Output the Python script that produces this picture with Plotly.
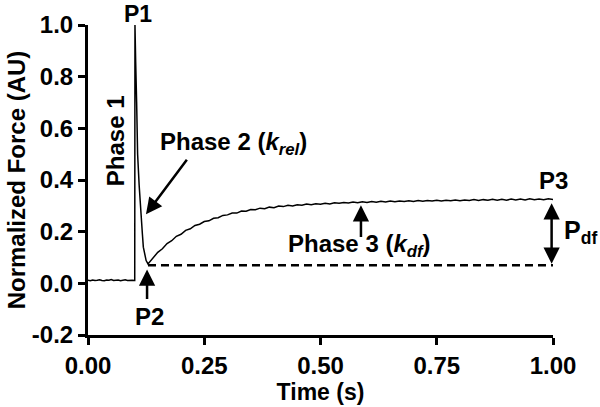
import plotly.graph_objects as go

# ---- data ----
time_s = [
    0.000, 0.005, 0.010, 0.015, 0.020, 0.025, 0.030, 0.035, 0.040, 0.045,
    0.050, 0.055, 0.060, 0.065, 0.070, 0.075, 0.080, 0.085, 0.090, 0.095,
    0.1005,
    0.1010, 0.1025, 0.1046, 0.1067, 0.1100, 0.1140, 0.1170, 0.1190, 0.1226, 0.1250, 0.1290,
    0.14, 0.15, 0.16, 0.17, 0.18, 0.19, 0.20, 0.21, 0.22, 0.23,
    0.24, 0.25, 0.26, 0.27, 0.28, 0.29, 0.30, 0.31, 0.32, 0.33,
    0.34, 0.35, 0.36, 0.37, 0.38, 0.39, 0.40, 0.41, 0.42, 0.43,
    0.44, 0.45, 0.46, 0.47, 0.48, 0.49, 0.50, 0.51, 0.52, 0.53,
    0.54, 0.55, 0.56, 0.57, 0.58, 0.59, 0.60, 0.61, 0.62, 0.63,
    0.64, 0.65, 0.66, 0.67, 0.68, 0.69, 0.70, 0.71, 0.72, 0.73,
    0.74, 0.75, 0.76, 0.77, 0.78, 0.79, 0.80, 0.81, 0.82, 0.83,
    0.84, 0.85, 0.86, 0.87, 0.88, 0.89, 0.90, 0.91, 0.92, 0.93,
    0.94, 0.95, 0.96, 0.97, 0.98, 0.99, 1.00,
]
force_au = [
    0.012, 0.010, 0.013, 0.011, 0.012, 0.014, 0.011, 0.010, 0.013, 0.012,
    0.015, 0.011, 0.012, 0.013, 0.010, 0.012, 0.014, 0.011, 0.013, 0.012,
    0.011,
    1.000, 0.860, 0.700, 0.500, 0.380, 0.290, 0.190, 0.140, 0.100, 0.088, 0.075,
    0.097, 0.120, 0.134, 0.154, 0.165, 0.182, 0.190, 0.205, 0.211, 0.224,
    0.229, 0.239, 0.242, 0.252, 0.254, 0.263, 0.265, 0.272, 0.272, 0.280,
    0.279, 0.286, 0.285, 0.291, 0.289, 0.295, 0.293, 0.299, 0.297, 0.302,
    0.299, 0.304, 0.302, 0.307, 0.304, 0.308, 0.306, 0.310, 0.307, 0.312,
    0.310, 0.313, 0.311, 0.315, 0.312, 0.316, 0.313, 0.317, 0.314, 0.318,
    0.315, 0.319, 0.316, 0.319, 0.317, 0.320, 0.317, 0.321, 0.318, 0.321,
    0.319, 0.322, 0.319, 0.322, 0.320, 0.323, 0.320, 0.323, 0.321, 0.324,
    0.321, 0.324, 0.322, 0.325, 0.322, 0.325, 0.322, 0.326, 0.323, 0.326,
    0.323, 0.327, 0.324, 0.326, 0.324, 0.327, 0.325,
]

# P2 reference level (dashed line)
p2_time = 0.129
p2_level = 0.070
end_time = 1.0

x_ticks = [0.0, 0.25, 0.5, 0.75, 1.0]
x_labels = ["0.00", "0.25", "0.50", "0.75", "1.00"]
y_ticks = [-0.2, 0.0, 0.2, 0.4, 0.6, 0.8, 1.0]
y_labels = ["-0.2", "0.0", "0.2", "0.4", "0.6", "0.8", "1.0"]

FONT = "Liberation Sans, Arial, sans-serif"
ANN = 24
PLBL = 24

fig = go.Figure()
fig.add_trace(go.Scatter(
    x=time_s, y=force_au, mode="lines",
    line=dict(color="black", width=1.5), showlegend=False, hoverinfo="skip",
))
fig.add_trace(go.Scatter(
    x=[p2_time, end_time], y=[p2_level, p2_level], mode="lines",
    line=dict(color="black", width=2.5, dash="8px,5px"), showlegend=False,
    hoverinfo="skip",
))

def txt(x, y, s, size=ANN, xanchor="center", yanchor="middle", angle=0,
        xref="x", yref="y"):
    fig.add_annotation(x=x, y=y, xref=xref, yref=yref, text=s, showarrow=False,
                       xanchor=xanchor, yanchor=yanchor, textangle=angle,
                       font=dict(family=FONT, size=size, color="black"))

def arrow(x0, y0, x1, y1, side="end"):
    # tail (x0,y0) -> head (x1,y1)
    fig.add_annotation(x=x1, y=y1, ax=x0, ay=y0, xref="x", yref="y",
                       axref="x", ayref="y", text="", showarrow=True,
                       arrowhead=2, arrowsize=1.3, arrowwidth=2.5,
                       arrowcolor="black", arrowside=side, standoff=0,
                       startstandoff=0, startarrowhead=2, startarrowsize=1.3)

txt(0.1075, 1.037, "<b>P1</b>", size=23, yref="paper")
txt(0.058, 0.554, "<b>Phase 1</b>", angle=-90)
txt(0.312, 0.543, "<b>Phase 2 (<i>k<sub>rel</sub></i>)</b>")
arrow(0.215, 0.484, 0.1247, 0.267)
txt(0.133, -0.128, "<b>P2</b>", size=PLBL)
arrow(0.127, -0.066, 0.127, 0.054)
txt(0.583, 0.147, "<b>Phase 3 (<i>k<sub>df</sub></i>)</b>")
arrow(0.587, 0.174, 0.587, 0.302)
txt(1.0, 0.40, "<b>P3</b>", size=PLBL)
arrow(0.997, p2_level, 0.997, 0.31, side="end+start")
txt(1.019, 0.200, "<b>P<sub>df</sub></b>", size=25, xanchor="left", xref="paper")

fig.update_layout(
    width=600, height=407,
    margin=dict(l=88, r=47, t=25, b=72, autoexpand=False),
    paper_bgcolor="white", plot_bgcolor="white",
    font=dict(family=FONT, color="black"),
)
fig.update_xaxes(
    range=[0, 1], tickvals=x_ticks, ticktext=x_labels, automargin=False,
    showline=True, linewidth=3, linecolor="black", mirror=False,
    ticks="outside", ticklen=7, tickwidth=3, tickcolor="black",
    showgrid=False, zeroline=False,
    tickfont=dict(family=FONT, size=24, color="black", weight="bold"),
    title=dict(text="<b>Time (s)</b>", font=dict(family=FONT, size=23, color="black"),
               standoff=0),
)
fig.update_yaxes(
    range=[-0.2, 1.0], tickvals=y_ticks, ticktext=y_labels, automargin=False,
    showline=True, linewidth=3, linecolor="black",
    ticks="outside", ticklen=7, tickwidth=3, tickcolor="black",
    showgrid=False, zeroline=False,
    tickfont=dict(family=FONT, size=24, color="black", weight="bold"),
    title=dict(text="<b>Normalized Force (AU)</b>",
               font=dict(family=FONT, size=24, color="black"), standoff=0),
)

fig.write_html("out.html", config={"displayModeBar": False},
               post_script="document.body.style.margin='0';document.body.style.padding='0';")
